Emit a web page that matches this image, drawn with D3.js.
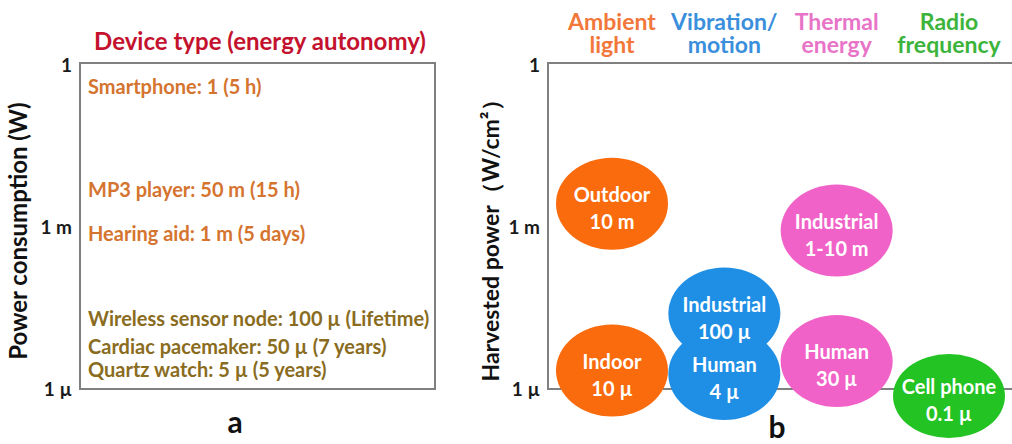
<!DOCTYPE html>
<html>
<head>
<meta charset="utf-8">
<script src="https://cdn.jsdelivr.net/npm/d3@7"></script>
<style>
	body { margin: 0; background: #fff; }
	text { font-family: Lato, "Open Sans", sans-serif; font-weight: bold; }
</style>
</head>
<body>
<script>
// ---- data ----
// panel a: device, consumption label, autonomy, level on log axis where the text row sits
var devices = ['Smartphone', 'MP3 player', 'Hearing aid', 'Wireless sensor node', 'Cardiac pacemaker', 'Quartz watch'];
var devicePower = ['1', '50 m', '1 m', '100 \u00b5', '50 \u00b5', '5 \u00b5'];
var deviceAutonomy = ['5 h', '15 h', '5 days', 'Lifetime', '7 years', '5 years'];
var deviceLevel = [0.39, 4.8e-3, 7.3e-4, 2.0e-5, 6.0e-6, 2.25e-6];
var deviceGroup = ['high', 'high', 'high', 'low', 'low', 'low'];

// panel b: energy sources and harvested power bubbles
var sources = ['Ambient light', 'Vibration/ motion', 'Thermal energy', 'Radio frequency'];
var sourceLines = [['Ambient', 'light'], ['Vibration/', 'motion'], ['Thermal', 'energy'], ['Radio', 'frequency']];
var harvestSource = ['Ambient light', 'Ambient light', 'Vibration/ motion', 'Vibration/ motion', 'Thermal energy', 'Thermal energy', 'Radio frequency'];
var harvestName = ['Outdoor', 'Indoor', 'Industrial', 'Human', 'Industrial', 'Human', 'Cell phone'];
var harvestPower = ['10 m', '10 \u00b5', '100 \u00b5', '4 \u00b5', '1-10 m', '30 \u00b5', '0.1 \u00b5'];
var harvestLevel = [2.7e-3, 2.2e-6, 2.5e-5, 1.9e-6, 8.6e-4, 3.3e-6, 7.4e-7];

var tickValues = [1e-6, 1e-3, 1];
var tickLabels = ['1 \u00b5', '1 m', '1'];

// ---- layout ----
var width = 1012, height = 444;
var boxTop = 63, boxBottom = 389;
var aLeft = 80, aRight = 435;
var bLeft = 548;

var sourceColor = d3.scaleOrdinal()
	.domain(sources)
	.range(['#f96b0c', '#1f8fe6', '#f162c8', '#22c322']);
var headerColor = d3.scaleOrdinal()
	.domain(sources)
	.range(['#f2773a', '#3a8fdc', '#e874c8', '#3cb43c']);
var groupColor = { high: '#d5742f', low: '#8a6c1e' };

var svg = d3.select('body').append('svg')
	.attr('width', width)
	.attr('height', height);

var y = d3.scaleLog().domain([1e-6, 1]).range([boxBottom, 65]);

var x = d3.scalePoint().domain(sources).range([612, 949]);

function yAxis() {
	return d3.axisLeft(y)
		.tickValues(tickValues)
		.tickFormat(function(d, i) { return tickLabels[i]; })
		.tickSize(0)
		.tickPadding(8);
}

// ---- panel a ----
var gA = svg.append('g');

gA.append('rect')
	.attr('x', aLeft)
	.attr('y', boxTop)
	.attr('width', aRight - aLeft)
	.attr('height', boxBottom - boxTop)
	.style('fill', 'none')
	.style('stroke', '#808080')
	.style('stroke-width', 2);

gA.append('g')
	.attr('transform', 'translate(' + aLeft + ',0)')
	.call(yAxis())
	.call(function(g) { g.select('.domain').remove(); })
	.selectAll('text')
		.style('font-size', '19px')
		.style('fill', '#1a1a1a')
		.style('font-family', 'Lato, sans-serif');

gA.append('text')
	.attr('x', 260)
	.attr('y', 50)
	.attr('text-anchor', 'middle')
	.style('font-size', '24px')
	.style('fill', '#c4122e')
	.text('Device type (energy autonomy)');

gA.selectAll('.device')
	.data(devices)
	.enter().append('text')
		.attr('class', 'device')
		.attr('x', aLeft + 8)
		.attr('y', function(d, i) { return y(deviceLevel[i]); })
		.attr('dy', '0.35em')
		.style('font-size', '20px')
		.style('fill', function(d, i) { return groupColor[deviceGroup[i]]; })
		.text(function(d, i) { return d + ': ' + devicePower[i] + ' (' + deviceAutonomy[i] + ')'; });

gA.append('text')
	.attr('transform', 'rotate(-90)')
	.attr('x', -231)
	.attr('y', 19)
	.attr('dy', '0.35em')
	.attr('text-anchor', 'middle')
	.style('font-size', '24px')
	.style('fill', '#111')
	.text('Power consumption (W)');

gA.append('text')
	.attr('x', 235)
	.attr('y', 433)
	.attr('text-anchor', 'middle')
	.style('font-size', '30px')
	.style('fill', '#111')
	.text('a');

// ---- panel b ----
var gB = svg.append('g');

gB.append('path')
	.attr('d', 'M' + (width + 5) + ',' + boxTop + 'H' + bLeft + 'V' + boxBottom + 'H' + (width + 5))
	.style('fill', 'none')
	.style('stroke', '#808080')
	.style('stroke-width', 2);

gB.append('g')
	.attr('transform', 'translate(' + bLeft + ',0)')
	.call(yAxis())
	.call(function(g) { g.select('.domain').remove(); })
	.selectAll('text')
		.style('font-size', '19px')
		.style('fill', '#1a1a1a')
		.style('font-family', 'Lato, sans-serif');

gB.append('text')
	.attr('transform', 'rotate(-90)')
	.attr('x', -235)
	.attr('y', 491)
	.attr('dy', '0.35em')
	.attr('text-anchor', 'middle')
	.style('font-size', '23px')
	.style('fill', '#111')
	.text('Harvested power\uff08W/cm\u00b2\uff09');

var header = gB.selectAll('.header')
	.data(sources)
	.enter().append('text')
		.attr('class', 'header')
		.attr('text-anchor', 'middle')
		.style('font-size', '23px')
		.style('fill', function(d) { return headerColor(d); });

header.selectAll('tspan')
	.data(function(d, i) { return sourceLines[i].map(function(t) { return { src: d, t: t }; }); })
	.enter().append('tspan')
		.attr('x', function(d) { return x(d.src); })
		.attr('y', function(d, j) { return j === 0 ? 30 : 53; })
		.text(function(d) { return d.t; });

var rx = 56, ry = 46;

gB.selectAll('.bubble')
	.data(harvestName)
	.enter().append('ellipse')
		.attr('class', 'bubble')
		.attr('cx', function(d, i) { return x(harvestSource[i]); })
		.attr('cy', function(d, i) { return y(harvestLevel[i]); })
		.attr('rx', rx)
		.attr('ry', function(d, i) { return harvestSource[i] === 'Radio frequency' ? 42 : ry; })
		.style('fill', function(d, i) { return sourceColor(harvestSource[i]); });

var label = gB.selectAll('.bubble-label')
	.data(harvestName)
	.enter().append('text')
		.attr('class', 'bubble-label')
		.attr('text-anchor', 'middle')
		.style('font-size', '20px')
		.style('fill', '#fff');

label.append('tspan')
	.attr('x', function(d, i) { return x(harvestSource[i]); })
	.attr('y', function(d, i) { return y(harvestLevel[i]) - 2; })
	.text(function(d) { return d; });

label.append('tspan')
	.attr('x', function(d, i) { return x(harvestSource[i]); })
	.attr('y', function(d, i) { return y(harvestLevel[i]) + 25; })
	.text(function(d, i) { return harvestPower[i]; });

gB.append('text')
	.attr('x', 777)
	.attr('y', 438)
	.attr('text-anchor', 'middle')
	.style('font-size', '30px')
	.style('fill', '#111')
	.text('b');
</script>
</body>
</html>
